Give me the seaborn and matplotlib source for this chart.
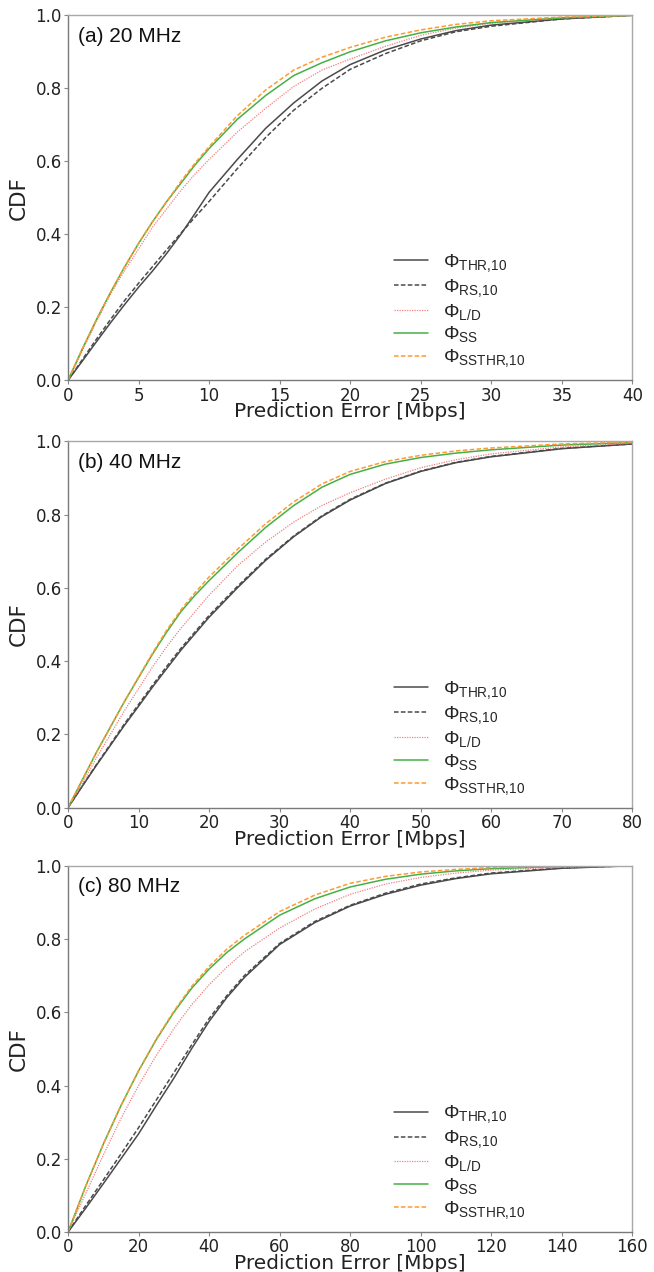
import matplotlib
matplotlib.use("Agg")
import matplotlib.pyplot as plt
import seaborn as sns
import pandas as pd

sns.set_style("ticks")
plt.rcParams["font.family"] = ["DejaVu Sans"]
plt.rcParams["mathtext.fontset"] = "custom"
plt.rcParams["mathtext.rm"] = "Liberation Sans"
plt.rcParams["mathtext.it"] = "Liberation Sans:italic"

# ---- (a) 20 MHz ----
x_20 = [0, 1, 2, 3, 4, 5, 6, 7, 8, 9, 10, 12, 14, 16, 18, 20, 22.5, 25, 27.5, 30, 35, 40]
thr_20 = [0, 0.052, 0.105, 0.157, 0.207, 0.255, 0.30, 0.348, 0.40, 0.457, 0.515, 0.605, 0.69, 0.76,
          0.82, 0.865, 0.905, 0.935, 0.958, 0.973, 0.99, 1.0]
rs_20 = [0, 0.056, 0.112, 0.166, 0.218, 0.266, 0.312, 0.358, 0.403, 0.447, 0.49, 0.58, 0.665, 0.74,
         0.80, 0.852, 0.895, 0.93, 0.955, 0.97, 0.99, 1.0]
ld_20 = [0, 0.08, 0.16, 0.235, 0.30, 0.36, 0.42, 0.47, 0.52, 0.565, 0.605, 0.68, 0.745, 0.805,
         0.85, 0.88, 0.915, 0.945, 0.965, 0.978, 0.992, 1.0]
ss_20 = [0, 0.085, 0.165, 0.24, 0.31, 0.375, 0.435, 0.49, 0.54, 0.59, 0.635, 0.715, 0.78, 0.835,
         0.87, 0.90, 0.93, 0.952, 0.968, 0.98, 0.993, 1.0]
ssthr_20 = [0, 0.085, 0.165, 0.24, 0.31, 0.375, 0.435, 0.49, 0.545, 0.595, 0.64, 0.725, 0.795, 0.85,
            0.885, 0.912, 0.94, 0.96, 0.975, 0.985, 0.995, 1.0]

# ---- (b) 40 MHz ----
x_40 = [0, 2, 4, 6, 8, 10, 12, 14, 16, 18, 20, 24, 28, 32, 36, 40, 45, 50, 55, 60, 70, 80]
thr_40 = [0, 0.058, 0.115, 0.17, 0.225, 0.277, 0.33, 0.38, 0.43, 0.475, 0.52, 0.60, 0.675, 0.74,
          0.795, 0.84, 0.885, 0.918, 0.942, 0.958, 0.98, 0.993]
rs_40 = [0, 0.059, 0.117, 0.173, 0.229, 0.282, 0.335, 0.386, 0.435, 0.48, 0.525, 0.604, 0.678, 0.742,
         0.797, 0.842, 0.886, 0.919, 0.943, 0.959, 0.981, 0.993]
ld_40 = [0, 0.065, 0.135, 0.20, 0.265, 0.325, 0.385, 0.44, 0.49, 0.535, 0.58, 0.66, 0.725, 0.78,
         0.825, 0.86, 0.897, 0.928, 0.95, 0.966, 0.985, 0.995]
ss_40 = [0, 0.075, 0.15, 0.22, 0.29, 0.355, 0.42, 0.48, 0.535, 0.58, 0.62, 0.695, 0.765, 0.825,
         0.875, 0.91, 0.938, 0.956, 0.968, 0.977, 0.99, 0.997]
ssthr_40 = [0, 0.075, 0.15, 0.22, 0.29, 0.357, 0.423, 0.485, 0.54, 0.587, 0.63, 0.705, 0.775, 0.835,
            0.884, 0.918, 0.945, 0.962, 0.974, 0.982, 0.993, 0.998]

# ---- (c) 80 MHz ----
x_80 = [0, 5, 10, 15, 20, 25, 30, 35, 40, 45, 50, 60, 70, 80, 90, 100, 110, 120, 140, 160]
thr_80 = [0, 0.065, 0.132, 0.20, 0.268, 0.345, 0.42, 0.50, 0.575, 0.64, 0.695, 0.785, 0.845, 0.89,
          0.922, 0.947, 0.965, 0.978, 0.993, 1.0]
rs_80 = [0, 0.072, 0.142, 0.213, 0.285, 0.36, 0.435, 0.51, 0.583, 0.645, 0.70, 0.788, 0.848, 0.892,
         0.925, 0.95, 0.967, 0.98, 0.994, 1.0]
ld_80 = [0, 0.105, 0.21, 0.31, 0.40, 0.482, 0.555, 0.62, 0.675, 0.723, 0.765, 0.83, 0.882, 0.922,
         0.95, 0.968, 0.98, 0.988, 0.996, 1.0]
ss_80 = [0, 0.125, 0.24, 0.345, 0.44, 0.525, 0.60, 0.665, 0.718, 0.763, 0.80, 0.865, 0.91, 0.942,
         0.963, 0.977, 0.986, 0.992, 0.998, 1.0]
ssthr_80 = [0, 0.125, 0.24, 0.345, 0.44, 0.527, 0.603, 0.67, 0.725, 0.772, 0.81, 0.875, 0.92, 0.952,
            0.971, 0.983, 0.99, 0.995, 0.999, 1.0]

panel_titles = ["(a) 20 MHz", "(b) 40 MHz", "(c) 80 MHz"]
x_limits = [40, 80, 160]
x_ticks = [list(range(0, 41, 5)), list(range(0, 81, 10)), list(range(0, 161, 20))]
y_ticks = [0.0, 0.2, 0.4, 0.6, 0.8, 1.0]

series_labels = [r"$\Phi_{\mathrm{THR{,}10}}$", r"$\Phi_{\mathrm{RS{,}10}}$",
                 r"$\Phi_{\mathrm{L/D}}$", r"$\Phi_{\mathrm{SS}}$",
                 r"$\Phi_{\mathrm{SSTHR{,}10}}$"]
series_styles = [
    dict(color="#4a4a4a", linestyle="-", linewidth=1.1),
    dict(color="#4a4a4a", linestyle=(0, (3, 1.5)), linewidth=1.1),
    dict(color="#f28080", linestyle=(0, (1, 1)), linewidth=0.9),
    dict(color="#45b045", linestyle="-", linewidth=1.1),
    dict(color="#ff9a30", linestyle=(0, (3, 1.5)), linewidth=1.1),
]

panels = [
    (x_20, [thr_20, rs_20, ld_20, ss_20, ssthr_20]),
    (x_40, [thr_40, rs_40, ld_40, ss_40, ssthr_40]),
    (x_80, [thr_80, rs_80, ld_80, ss_80, ssthr_80]),
]

fig = plt.figure(figsize=(6.54, 12.72), dpi=100)
axes_boxes = [
    [0.104, 0.701, 0.863, 0.287],
    [0.104, 0.365, 0.863, 0.288],
    [0.104, 0.0314, 0.863, 0.288],
]

for i, (xs, ys_list) in enumerate(panels):
    ax = fig.add_axes(axes_boxes[i])
    for ys, lab, st in zip(ys_list, series_labels, series_styles):
        df = pd.DataFrame({"x": xs, "y": ys})
        sns.lineplot(data=df, x="x", y="y", ax=ax, label=lab, estimator=None, **st)
    ax.set_xlim(0, x_limits[i])
    ax.set_ylim(0, 1.0)
    ax.set_xticks(x_ticks[i])
    ax.set_yticks(y_ticks)
    ax.set_yticklabels([f"{v:.1f}" for v in y_ticks])
    ax.tick_params(labelsize=12, colors="#222222", length=3, width=0.8,
                   pad=1.5, color="#888888")
    for name, sp in ax.spines.items():
        sp.set_color("#7a7a7a" if name in ("left", "bottom") else "#a8a8a8")
        sp.set_linewidth(1.0)
    ax.set_xlabel("Prediction Error [Mbps]", fontsize=14.5, labelpad=-1.5, color="#222222")
    ax.set_ylabel("CDF", fontsize=15.5, labelpad=5, color="#222222")
    ax.text(0.017, 0.968, panel_titles[i], transform=ax.transAxes, ha="left", va="top",
            fontsize=15, family=["Liberation Sans"], color="#111111")
    ax.legend(loc="lower left", bbox_to_anchor=(0.578, 0.03), frameon=False,
              fontsize=14, handlelength=1.75, handletextpad=0.75, labelspacing=0.15,
              borderaxespad=0, borderpad=0)

fig.savefig("out.png", dpi=100)
